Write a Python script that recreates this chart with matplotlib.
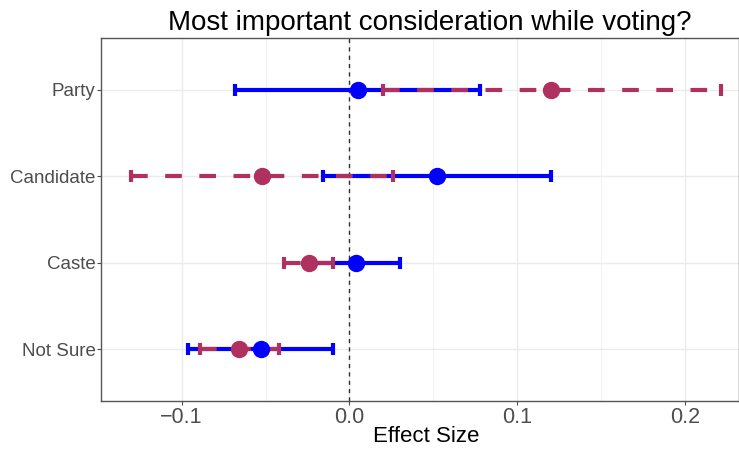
import matplotlib
matplotlib.use("Agg")
import matplotlib.pyplot as plt

plt.rcParams['font.family'] = ['Liberation Sans', 'DejaVu Sans']

# categories listed top to bottom
categories = ["Party", "Candidate", "Caste", "Not Sure"]

# blue series (solid)
blue_est = [0.005, 0.052, 0.004, -0.053]
blue_lo = [-0.068, -0.016, -0.022, -0.096]
blue_hi = [0.078, 0.120, 0.030, -0.010]

# maroon series (dashed)
red_est = [0.120, -0.052, -0.024, -0.066]
red_lo = [0.020, -0.130, -0.039, -0.089]
red_hi = [0.221, 0.026, -0.010, -0.042]

BLUE = "#0000FF"
RED = "#B03060"

n = len(categories)
ypos = [n - i for i in range(n)]

fig = plt.figure(figsize=(7.39, 4.51), dpi=100)
ax = fig.add_axes([0.1367, 0.111, 0.8633, 0.8047])

def draw_bars(est, lo, hi, color, dashed):
    xerr = [[e - l for e, l in zip(est, lo)], [h - e for e, h in zip(est, hi)]]
    eb = ax.errorbar(est, ypos, xerr=xerr, fmt='none', ecolor=color,
                     elinewidth=3, capsize=4, capthick=3, zorder=3)
    if dashed:
        for lc in eb[2]:
            lc.set_linestyle((0, (4, 4.2)))
    return eb

draw_bars(blue_est, blue_lo, blue_hi, BLUE, False)
draw_bars(red_est, red_lo, red_hi, RED, True)
ax.plot(blue_est, ypos, 'o', color=BLUE, markersize=11.5, zorder=4)
ax.plot(red_est, ypos, 'o', color=RED, markersize=11.5, zorder=4)

ax.axvline(0, color='#333333', linestyle=(0, (3, 3)), linewidth=1, zorder=2)

ax.set_xlim(-0.148, 0.232)
ax.set_ylim(0.4, n + 0.6)
ax.set_yticks(ypos)
ax.set_yticklabels(categories)
ax.set_xticks([-0.1, 0.0, 0.1, 0.2])
ax.set_xticklabels(["\u22120.1", "0.0", "0.1", "0.2"])
ax.set_xticks([-0.05, 0.05, 0.15], minor=True)

ax.grid(True, which='major', color='#EBEBEB', linewidth=1, zorder=0)
ax.grid(True, which='minor', axis='x', color='#F2F2F2', linewidth=0.8, zorder=0)
ax.set_axisbelow(True)

ax.tick_params(axis='x', which='major', labelsize=15.5, colors='#4D4D4D',
               length=3, width=0.8, pad=1.5)
ax.tick_params(axis='y', which='major', labelsize=13.5, colors='#4D4D4D',
               length=3, width=0.8, pad=1)
ax.tick_params(which='minor', length=0)

for s in ax.spines.values():
    s.set_color('#555555')
    s.set_linewidth(1)

# the original panel ran past the right edge, so labels sit right of centre
ax.set_xlabel("Effect Size", fontsize=16, color='black', labelpad=-1.5, x=0.509)
ax.set_title("Most important consideration while voting?", fontsize=20,
             pad=6, x=0.516)

fig.savefig("out.png", dpi=100)
